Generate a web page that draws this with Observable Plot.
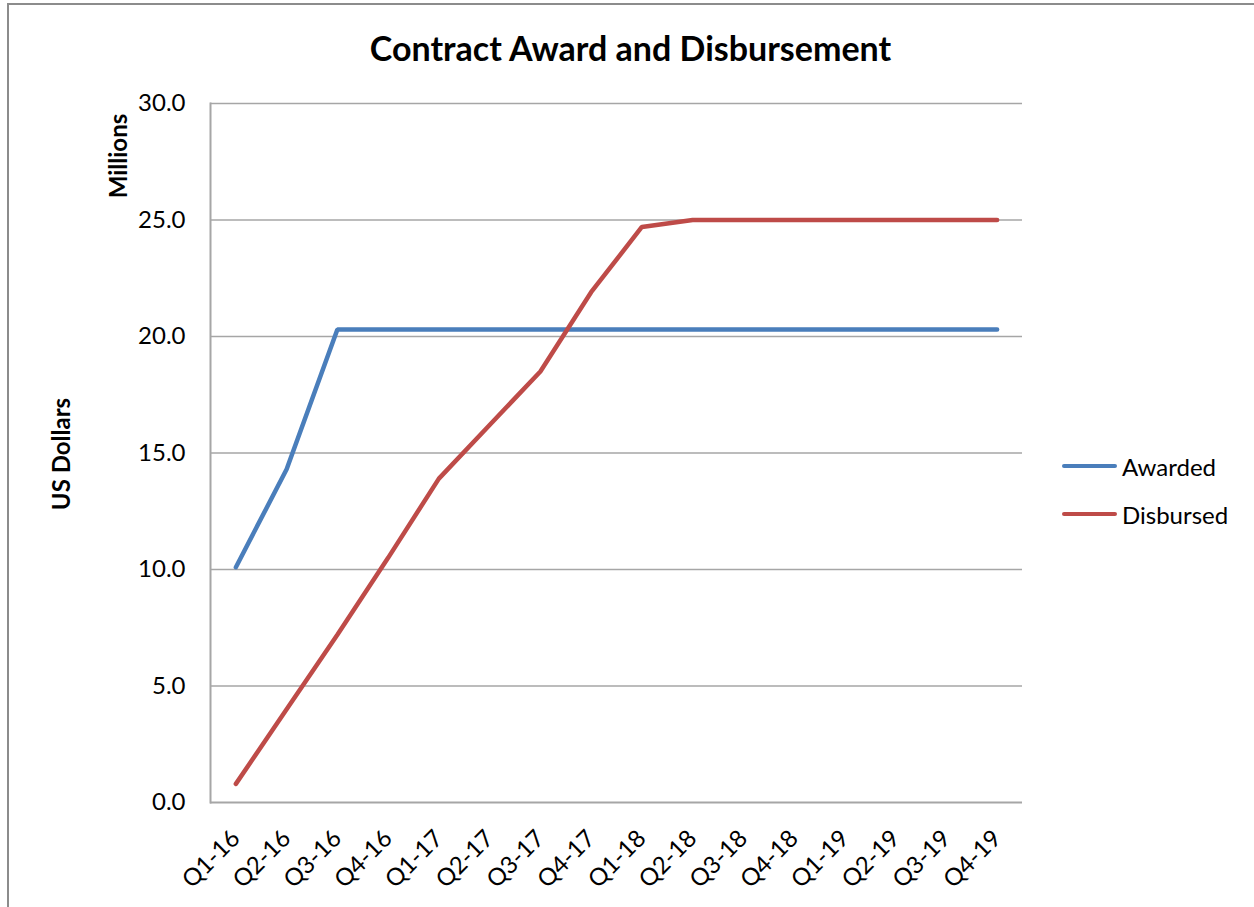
<!DOCTYPE html>
<html>
<head>
<meta charset="utf-8">
<script src="https://cdn.jsdelivr.net/npm/d3@7"></script>
<script src="https://cdn.jsdelivr.net/npm/@observablehq/plot@0.6"></script>
<style>
  html, body { margin: 0; padding: 0; background: #fff; }
  #wrap { position: relative; width: 1254px; height: 907px; overflow: hidden; font-family: Lato, "Open Sans", sans-serif; color: #000; }
  #frame { position: absolute; left: 7px; top: 3px; width: 1260px; height: 920px; border-left: 2px solid #8c8c8c; border-top: 2px solid #8c8c8c; box-sizing: border-box; }
  #title { position: absolute; left: 7px; width: 1247px; top: 28px; text-align: center; font-weight: bold; font-size: 34px; line-height: 40px; }
  .ylab { position: absolute; font-weight: bold; font-size: 24px; white-space: nowrap; transform: translate(-50%, -50%) rotate(-90deg); }
  #chart { position: absolute; left: 0; top: 0; }
  .leg { position: absolute; left: 1062px; font-size: 24px; white-space: nowrap; }
  .leg .sw { position: absolute; left: 0; width: 55px; height: 4px; border-radius: 2px; top: 0; }
  .leg .tx { position: absolute; left: 60px; top: 0; transform: translateY(-50%); }
</style>
</head>
<body>
<div id="wrap">
  <div id="frame"></div>
  <div id="chart"></div>
  <div id="title">Contract Award and Disbursement</div>
  <div class="ylab" style="left:117px; top:156px;">Millions</div>
  <div class="ylab" style="left:60px; top:454px;">US Dollars</div>
  <div id="legend"></div>
</div>
<script>
const quarters = ["Q1-16","Q2-16","Q3-16","Q4-16","Q1-17","Q2-17","Q3-17","Q4-17",
                  "Q1-18","Q2-18","Q3-18","Q4-18","Q1-19","Q2-19","Q3-19","Q4-19"];
const awarded = [10.1, 14.3, 20.3, 20.3, 20.3, 20.3, 20.3, 20.3,
                 20.3, 20.3, 20.3, 20.3, 20.3, 20.3, 20.3, 20.3];
const disbursed = [0.8, 4.0, 7.2, 10.5, 13.9, 16.2, 18.5, 21.9,
                   24.7, 25.0, 25.0, 25.0, 25.0, 25.0, 25.0, 25.0];
const seriesNames = ["Awarded", "Disbursed"];
const seriesColors = ["#4a7ebb", "#be4b48"];
const yTicks = [0, 5, 10, 15, 20, 25, 30];

const seriesValues = [awarded, disbursed];
const data = seriesNames.flatMap((s, k) => quarters.map((q, i) => ({q, v: seriesValues[k][i], s})));

const gridColor = "#a6a6a6";

const chart = Plot.plot({
  width: 1254,
  height: 907,
  marginLeft: 210,
  marginRight: 232,
  marginTop: 103,
  marginBottom: 105,
  style: {fontFamily: "Lato, 'Open Sans', sans-serif", fontSize: "24px", color: "#000", background: "transparent"},
  x: {type: "point", domain: quarters, padding: 0.5, round: false, label: null},
  y: {domain: [0, 30], label: null},
  color: {domain: seriesNames, range: seriesColors},
  marks: [
    Plot.ruleY(yTicks.filter(d => d > 0), {stroke: gridColor, strokeWidth: 1.3}),
    Plot.ruleY([0], {stroke: gridColor, strokeWidth: 2}),
    Plot.frame({anchor: "left", stroke: gridColor, strokeWidth: 2}),
    Plot.axisY({ticks: yTicks, tickFormat: d3.format(".1f"), tickSize: 0, tickPadding: 25, fontSize: 24, label: null}),
    Plot.axisX({tickSize: 0, tickRotate: -45, tickPadding: 32, dx: 0, fontSize: 24, label: null}),
    Plot.line(data, {x: "q", y: "v", z: "s", stroke: "s", strokeWidth: 4.5, strokeLinejoin: "miter", strokeLinecap: "round"})
  ]
});
document.getElementById("chart").appendChild(chart);

const legend = document.getElementById("legend");
const legTops = [466, 514];
seriesNames.forEach((s, i) => {
  const row = document.createElement("div");
  row.className = "leg";
  row.style.top = legTops[i] + "px";
  row.innerHTML = `<div class="sw" style="background:${seriesColors[i]}; top:-2px"></div><div class="tx">${s}</div>`;
  legend.appendChild(row);
});
</script>
</body>
</html>
